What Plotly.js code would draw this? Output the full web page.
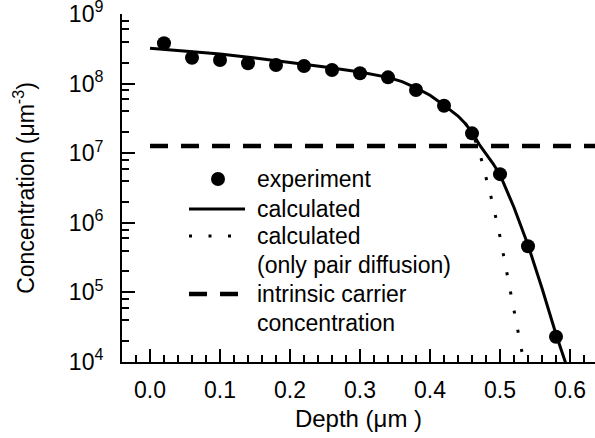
<!DOCTYPE html>
<html>
<head>
<meta charset="utf-8">
<script src="https://cdn.plot.ly/plotly-3.0.1.min.js"></script>
<style>html,body{margin:0;padding:0;background:#fff;}#chart{width:595px;height:438px;}</style>
</head>
<body>
<div id="chart"></div>
<script>
// Experiment (depth in µm, concentration in µm^-3)
const expDepth = [0.02, 0.06, 0.10, 0.14, 0.18, 0.22, 0.26, 0.30, 0.34, 0.38, 0.42, 0.46, 0.50, 0.54, 0.58];
const expConc  = [3.8e8, 2.35e8, 2.18e8, 1.96e8, 1.85e8, 1.79e8, 1.57e8, 1.41e8, 1.23e8, 8.1e7, 4.8e7, 1.93e7, 5.0e6, 4.6e5, 2.3e4];

// Calculated (full model)
const calcDepth = [0.0, 0.05, 0.10, 0.15, 0.20, 0.25, 0.30, 0.34, 0.36, 0.38, 0.40, 0.42, 0.44, 0.45, 0.46, 0.47, 0.48, 0.49, 0.50, 0.52, 0.54, 0.56, 0.58, 0.60];
const calcConc  = [3.21e8, 2.93e8, 2.67e8, 2.33e8, 2.03e8, 1.73e8, 1.47e8, 1.23e8, 1.07e8, 8.7e7, 6.8e7, 4.9e7, 3.42e7, 2.7e7, 2.0e7, 1.35e7, 9.8e6, 7.1e6, 4.9e6, 1.66e6, 4.8e5, 1.15e5, 2.5e4, 6.3e3];

// Calculated (only pair diffusion)
const pairDepth = [0.45, 0.46, 0.47, 0.48, 0.49, 0.50, 0.51, 0.52, 0.53, 0.535];
const pairConc  = [2.7e7, 2.0e7, 1.10e7, 4.65e6, 1.82e6, 6.3e5, 1.82e5, 5.5e4, 1.56e4, 8.9e3];

// Intrinsic carrier concentration
const intrinsicDepth = [0.0, 0.64];
const intrinsicConc  = [1.27e7, 1.27e7];

const seriesNames = ['experiment', 'calculated', 'calculated<br>(only pair diffusion)', 'intrinsic carrier<br>concentration'];

// y tick labels
const yTickVals = [1e4, 1e5, 1e6, 1e7, 1e8, 1e9];
const yTickText = ['10<sup>4</sup>', '10<sup>5</sup>', '10<sup>6</sup>', '10<sup>7</sup>', '10<sup>8</sup>', '10<sup>9</sup>'];

const FONT = 'Liberation Sans, Arial, sans-serif';
const W = 595, H = 438, M = {l: 122, r: 0, t: 14, b: 76};

const traces = [
  {x: expDepth, y: expConc, mode: 'markers', name: seriesNames[0],
   marker: {color: '#000', size: 14}},
  {x: calcDepth, y: calcConc, mode: 'lines', name: seriesNames[1],
   line: {color: '#000', width: 3}},
  {x: pairDepth, y: pairConc, mode: 'lines', name: seriesNames[2],
   line: {color: '#000', width: 3, dash: '3px,16.5px'}},
  {x: intrinsicDepth, y: intrinsicConc, mode: 'lines', name: seriesNames[3],
   line: {color: '#000', width: 4.5, dash: '18px,13px'}}
];

// minor ticks on log axis at 2,4,6,8 × decade
const minorY = [];
for (let d = 4; d < 9; d++) { [2, 4, 6, 8].forEach(m => minorY.push(m * Math.pow(10, d))); }

// ---- legend drawn as paper-referenced shapes + annotations ----
const pw = W - M.l - M.r, ph = H - M.t - M.b;
const px = v => (v - M.l) / pw;          // pixel x -> paper x
const py = v => (H - M.b - v) / ph;      // pixel y -> paper y
const legSymX0 = 189, legSymX1 = 245, legTextX = 255;
const legRows = [179, 209, 236, 294];     // symbol rows (pixel y)
const legLineH = 28.5;

const shapes = [
  {type: 'circle', xref: 'paper', yref: 'paper', xsizemode: 'pixel', ysizemode: 'pixel',
   xanchor: px(218), yanchor: py(legRows[0]), x0: -7, x1: 7, y0: -7, y1: 7,
   fillcolor: '#000', line: {width: 0}},
  {type: 'line', xref: 'paper', yref: 'paper', x0: px(legSymX0), x1: px(legSymX1),
   y0: py(legRows[1]), y1: py(legRows[1]), line: {color: '#000', width: 3}},
  {type: 'line', xref: 'paper', yref: 'paper', x0: px(legSymX0), x1: px(legSymX1),
   y0: py(legRows[2]), y1: py(legRows[2]), line: {color: '#000', width: 3, dash: '3px,16.5px'}},
  {type: 'line', xref: 'paper', yref: 'paper', x0: px(legSymX0), x1: px(legSymX1 - 7),
   y0: py(legRows[3]), y1: py(legRows[3]), line: {color: '#000', width: 4.5, dash: '18px,13px'}}
];

const annotations = [];
seriesNames.forEach((name, i) => {
  name.split('<br>').forEach((line, j) => {
    annotations.push({xref: 'paper', yref: 'paper', x: px(legTextX), y: py(legRows[i] + j * legLineH),
      xanchor: 'left', yanchor: 'middle', showarrow: false, text: line,
      font: {family: FONT, size: 23, color: '#000'}});
  });
});

const layout = {
  width: W, height: H,
  margin: M,
  paper_bgcolor: '#fff', plot_bgcolor: '#fff',
  font: {family: FONT, size: 23, color: '#000'},
  showlegend: false,
  shapes: shapes,
  annotations: annotations,
  xaxis: {
    range: [-0.04, 0.6357], showgrid: false, zeroline: false,
    showline: true, linecolor: '#000', linewidth: 2,
    ticks: 'inside', ticklen: 13, tickwidth: 2, tickcolor: '#000',
    dtick: 0.1, tick0: 0, tickformat: '.1f',
    minor: {dtick: 0.02, tick0: 0, ticks: 'inside', ticklen: 7, tickwidth: 2, tickcolor: '#000'},
    ticklabelstandoff: 6, ticklabeloverflow: 'allow',
    tickfont: {family: FONT, size: 23, color: '#000'},
    title: {text: 'Depth (μm )', font: {family: FONT, size: 24, color: '#000'}, standoff: 9}
  },
  yaxis: {
    type: 'log', range: [4, 9], showgrid: false, zeroline: false,
    showline: true, linecolor: '#000', linewidth: 2,
    ticks: 'inside', ticklen: 13, tickwidth: 2, tickcolor: '#000',
    tickmode: 'array', tickvals: yTickVals, ticktext: yTickText,
    minor: {tickmode: 'array', tickvals: minorY, ticks: 'inside', ticklen: 7, tickwidth: 2, tickcolor: '#000'},
    ticklabelstandoff: 12, ticklabeloverflow: 'allow',
    tickfont: {family: FONT, size: 23, color: '#000'},
    title: {text: 'Concentration (μm<sup>-3</sup>)', font: {family: FONT, size: 23, color: '#000'}, standoff: 28}
  }
};

Plotly.newPlot('chart', traces, layout, {staticPlot: true, displayModeBar: false});
</script>
</body>
</html>
